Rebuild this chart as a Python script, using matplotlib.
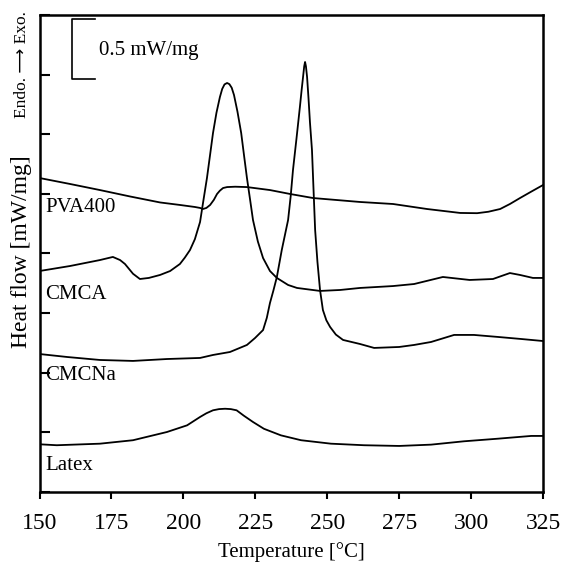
import matplotlib
matplotlib.use("Agg")
import matplotlib.pyplot as plt

plt.rcParams['font.family'] = ['Liberation Serif', 'DejaVu Sans']

# DSC traces, heat flow in mW/mg (curves offset vertically)
pva_t = [150, 160.6, 171, 181.5, 191.9, 198.8, 204.0, 205.8, 206.8, 208.0,
         209.3, 210.6, 211.7, 212.7, 213.8, 215.2, 218.0, 222.1, 230.1, 237.1,
         245.1, 261.4, 272.9, 284.7, 296.2, 302.1, 306.0, 310.1, 313.5, 317.0,
         321.0, 325]
pva_q = [2.633, 2.583, 2.532, 2.478, 2.428, 2.407, 2.390, 2.382, 2.373, 2.382,
         2.407, 2.450, 2.499, 2.527, 2.549, 2.557, 2.560, 2.557, 2.532, 2.499,
         2.465, 2.432, 2.415, 2.373, 2.340, 2.338, 2.350, 2.373, 2.415, 2.465,
         2.520, 2.574]

cmca_t = [150, 160.6, 171, 175.5, 178.0, 179.7, 182.5, 184.9, 188.0, 191.9,
          195.4, 198.8, 200.5, 202.3, 204.0, 205.8, 207.0, 208.2, 209.3, 210.3,
          211.5, 212.7, 213.5, 214.3, 215.2, 216.0, 216.8, 217.6, 218.8, 220.1,
          221.1, 222.1, 223.2, 224.2, 225.9, 227.7, 230.1, 232.5, 236.4, 239.5,
          247.5, 254.5, 261.4, 272.9, 280.2, 290.2, 299.5, 307.6, 311.0, 313.5,
          317.0, 321.5, 325]
cmca_q = [1.853, 1.895, 1.945, 1.971, 1.945, 1.912, 1.830, 1.786, 1.795, 1.820,
          1.853, 1.912, 1.965, 2.029, 2.120, 2.264, 2.450, 2.633, 2.830, 3.010,
          3.180, 3.312, 3.380, 3.418, 3.430, 3.420, 3.390, 3.329, 3.190, 3.010,
          2.820, 2.633, 2.450, 2.281, 2.100, 1.962, 1.853, 1.795, 1.736, 1.711,
          1.686, 1.694, 1.711, 1.727, 1.744, 1.803, 1.778, 1.786, 1.815, 1.836,
          1.820, 1.795, 1.795]

cmcna_t = [150, 159.6, 171, 182.5, 194.3, 205.8, 210.3, 216.2, 222.1, 224.9,
           227.7, 229.0, 230.1, 231.3, 232.5, 234.2, 236.4, 237.3, 238.1, 239.3,
           240.5, 241.1, 241.6, 242.0, 242.3, 242.6, 243.0, 243.5, 244.0, 244.7,
           245.3, 245.8, 246.6, 247.5, 248.5, 249.7, 251.0, 253.0, 255.5, 261.4,
           266.3, 275.0, 280.2, 286.1, 294.1, 301.0, 309.4, 317.4, 325]
cmcna_q = [1.157, 1.132, 1.107, 1.099, 1.115, 1.124, 1.149, 1.174, 1.233, 1.291,
           1.358, 1.460, 1.585, 1.690, 1.803, 2.029, 2.281, 2.480, 2.700, 2.960,
           3.228, 3.370, 3.480, 3.570, 3.606, 3.570, 3.480, 3.300, 3.100, 2.868,
           2.500, 2.197, 1.930, 1.694, 1.526, 1.440, 1.384, 1.320, 1.275, 1.241,
           1.208, 1.216, 1.233, 1.258, 1.317, 1.317, 1.300, 1.283, 1.266]

latex_t = [150, 156.0, 171, 182.5, 194.3, 201.3, 205.8, 208.0, 210.3, 212.4,
           214.5, 216.5, 218.5, 221.0, 224.2, 228.0, 233.9, 240.9, 251.3, 262.8,
           275.0, 286.1, 297.5, 309.4, 320.9, 325]
latex_q = [0.400, 0.392, 0.405, 0.434, 0.503, 0.559, 0.629, 0.660, 0.685, 0.695,
           0.698, 0.695, 0.685, 0.640, 0.587, 0.530, 0.475, 0.434, 0.405, 0.392,
           0.386, 0.397, 0.425, 0.447, 0.470, 0.470]

names = ['PVA400', 'CMCA', 'CMCNa', 'Latex']
label_y = [2.382, 1.660, 0.973, 0.226]

fig = plt.figure(figsize=(5.62, 5.64), dpi=100)
ax = fig.add_axes([0.0703, 0.1277, 0.8959, 0.8457])

for t, q in [(pva_t, pva_q), (cmca_t, cmca_q), (cmcna_t, cmcna_q), (latex_t, latex_q)]:
    ax.plot(t, q, color='black', lw=1.3)

for name, y in zip(names, label_y):
    ax.text(151.9, y, name, fontsize=15, ha='left', va='center')

# 0.5 mW/mg scale bar
ax.plot([169.3, 161.3, 161.3, 169.3], [3.966, 3.966, 3.466, 3.466],
        color='black', lw=1.2)
ax.text(170.6, 3.706, '0.5 mW/mg', fontsize=15, ha='left', va='center')

ax.set_xlim(150, 325)
ax.set_ylim(0, 4)
ax.set_xticks(range(150, 326, 25))
ax.set_yticks([i * 0.5 for i in range(9)])
ax.set_yticklabels([])
ax.tick_params(axis='x', direction='out', length=5, width=1.5, labelsize=17, pad=10)
ax.tick_params(axis='y', direction='in', length=7, width=1.5)
for sp in ax.spines.values():
    sp.set_linewidth(1.8)

ax.set_xlabel('Temperature [°C]', fontsize=15, labelpad=6)
fig.text(22 / 562, 1 - 252 / 564, 'Heat flow [mW/mg]', fontsize=17,
         rotation=90, ha='center', va='center')
fig.text(22 / 562, 1 - 65 / 564, 'Endo. \u27f6 Exo.', fontsize=12.5,
         rotation=90, ha='center', va='center')

fig.savefig('out.png', dpi=100)
